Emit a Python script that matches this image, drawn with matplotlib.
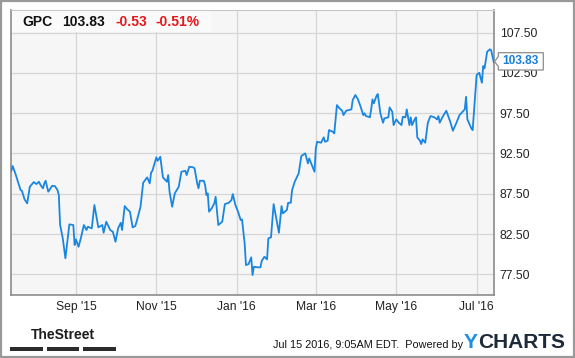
import matplotlib
matplotlib.use("Agg")
import matplotlib.pyplot as plt
import matplotlib.dates as mdates
from matplotlib import font_manager
from matplotlib.patches import Rectangle, Polygon
import pandas as pd

ticker = "GPC"
last_price = "103.83"
change = "-0.53"
change_pct = "-0.51%"
stamp = "Jul 15 2016, 9:05AM EDT.  Powered by"

dates = [
    "2015-07-14", "2015-07-15", "2015-07-17", "2015-07-19", "2015-07-21", "2015-07-22",
    "2015-07-24", "2015-07-26", "2015-07-28", "2015-07-31", "2015-08-02", "2015-08-04",
    "2015-08-05", "2015-08-07", "2015-08-08", "2015-08-09", "2015-08-11", "2015-08-14",
    "2015-08-16", "2015-08-18", "2015-08-19", "2015-08-20", "2015-08-22", "2015-08-24",
    "2015-08-27", "2015-08-30", "2015-08-31", "2015-09-01", "2015-09-03", "2015-09-05",
    "2015-09-07", "2015-09-09", "2015-09-10", "2015-09-13", "2015-09-15", "2015-09-18",
    "2015-09-21", "2015-09-22", "2015-09-24", "2015-09-27", "2015-09-29", "2015-10-01",
    "2015-10-03", "2015-10-05", "2015-10-06", "2015-10-08", "2015-10-10", "2015-10-12",
    "2015-10-14", "2015-10-16", "2015-10-17", "2015-10-19", "2015-10-20", "2015-10-22",
    "2015-10-25", "2015-10-27", "2015-10-28", "2015-10-29", "2015-11-01", "2015-11-02",
    "2015-11-04", "2015-11-05", "2015-11-06", "2015-11-09", "2015-11-10", "2015-11-11",
    "2015-11-13", "2015-11-15", "2015-11-18", "2015-11-20", "2015-11-23", "2015-11-24",
    "2015-11-26", "2015-11-29", "2015-11-30", "2015-12-02", "2015-12-03", "2015-12-04",
    "2015-12-07", "2015-12-08", "2015-12-09", "2015-12-10", "2015-12-11", "2015-12-13",
    "2015-12-15", "2015-12-16", "2015-12-18", "2015-12-20", "2015-12-21", "2015-12-23",
    "2015-12-26", "2015-12-28", "2015-12-29", "2015-12-31", "2016-01-02", "2016-01-04",
    "2016-01-05", "2016-01-07", "2016-01-08", "2016-01-10", "2016-01-12", "2016-01-13",
    "2016-01-14", "2016-01-17", "2016-01-19", "2016-01-20", "2016-01-22", "2016-01-24",
    "2016-01-25", "2016-01-27", "2016-01-29", "2016-01-31", "2016-02-02", "2016-02-04",
    "2016-02-05", "2016-02-08", "2016-02-09", "2016-02-11", "2016-02-12", "2016-02-14",
    "2016-02-17", "2016-02-19", "2016-02-22", "2016-02-24", "2016-02-25", "2016-02-29",
    "2016-03-01", "2016-03-02", "2016-03-05", "2016-03-07", "2016-03-08", "2016-03-10",
    "2016-03-11", "2016-03-14", "2016-03-15", "2016-03-17", "2016-03-19", "2016-03-21",
    "2016-03-22", "2016-03-24", "2016-03-26", "2016-03-28", "2016-03-29", "2016-03-31",
    "2016-04-02", "2016-04-04", "2016-04-06", "2016-04-07", "2016-04-08", "2016-04-10",
    "2016-04-11", "2016-04-12", "2016-04-13", "2016-04-14", "2016-04-16", "2016-04-17",
    "2016-04-19", "2016-04-21", "2016-04-22", "2016-04-25", "2016-04-26", "2016-04-28",
    "2016-04-29", "2016-05-01", "2016-05-03", "2016-05-05", "2016-05-06", "2016-05-08",
    "2016-05-09", "2016-05-11", "2016-05-12", "2016-05-13", "2016-05-15", "2016-05-16",
    "2016-05-17", "2016-05-19", "2016-05-20", "2016-05-21", "2016-05-23", "2016-05-25",
    "2016-05-27", "2016-05-30", "2016-06-01", "2016-06-02", "2016-06-03", "2016-06-05",
    "2016-06-08", "2016-06-11", "2016-06-13", "2016-06-16", "2016-06-18", "2016-06-21",
    "2016-06-22", "2016-06-23", "2016-06-24", "2016-06-27", "2016-06-28", "2016-07-01",
    "2016-07-03", "2016-07-05", "2016-07-06", "2016-07-07", "2016-07-09", "2016-07-11",
    "2016-07-12", "2016-07-14",
]
prices = [
    90.35, 90.94, 90.03, 88.99, 87.96, 87.87,
    86.81, 86.31, 88.37, 88.95, 88.70, 88.99,
    88.62, 88.17, 88.79, 89.11, 87.75, 88.49,
    88.46, 87.96, 87.34, 83.62, 81.97, 79.49,
    83.70, 83.62, 81.14, 81.84, 80.92, 82.17,
    83.62, 83.00, 83.41, 83.21, 86.10, 83.33,
    83.62, 82.66, 84.03, 83.00, 82.79, 81.54,
    83.21, 83.90, 83.00, 85.97, 85.56, 85.27,
    83.33, 83.49, 84.03, 85.27, 85.89, 88.86,
    89.53, 88.79, 90.11, 90.35, 92.02, 91.59,
    92.09, 90.85, 89.53, 88.99, 89.82, 87.75,
    85.89, 87.55, 88.37, 90.23, 90.35, 89.82,
    90.85, 90.78, 90.65, 88.79, 88.17, 89.11,
    89.11, 88.58, 87.34, 87.55, 85.27, 85.69,
    86.31, 87.13, 83.62, 83.90, 84.03, 86.22,
    86.38, 86.72, 87.46, 86.10, 85.27, 84.24,
    84.32, 81.35, 78.65, 78.78, 79.61, 77.41,
    78.44, 78.37, 78.37, 79.19, 79.68, 79.36,
    81.97, 82.09, 86.22, 84.45, 82.66, 85.97,
    85.07, 85.48, 86.38, 86.38, 87.96, 88.99,
    90.03, 92.18, 92.51, 91.27, 91.89, 90.23,
    93.13, 93.95, 93.83, 94.50, 93.95, 94.08,
    95.40, 95.19, 94.99, 98.50, 98.10, 97.80,
    97.26, 97.80, 97.88, 97.97, 99.13, 99.75,
    99.21, 98.29, 97.26, 97.48, 97.14, 97.05,
    96.98, 97.97, 99.21, 98.72, 99.62, 99.87,
    97.48, 96.31, 96.85, 96.98, 98.22, 97.67,
    96.02, 96.73, 96.31, 96.02, 97.05, 96.98,
    97.97, 96.02, 96.98, 96.02, 96.73, 96.98,
    94.50, 94.08, 93.67, 94.25, 93.83, 96.31,
    97.14, 96.98, 96.73, 97.14, 96.31, 96.98,
    97.80, 96.43, 95.32, 96.43, 97.26, 97.80,
    97.97, 99.53, 96.73, 95.61, 95.40, 102.23,
    102.51, 101.27, 103.34, 103.06, 105.12, 105.42,
    105.33, 103.83,
]
y_ticks = [77.5, 82.5, 87.5, 92.5, 97.5, 102.5, 107.5]

W, H = 575, 358


def fx(x):
    return x / W


def fy(y):
    return 1 - y / H


plt.rcParams['font.family'] = ['Liberation Sans', 'DejaVu Sans']
installed = {f.name for f in font_manager.fontManager.ttflist}
narrow = 'Liberation Sans Narrow' in installed

fig = plt.figure(figsize=(W / 100, H / 100), dpi=100)
fig.patch.set_facecolor('white')

# plot area in pixels: x 10.7..494.3, y 10..294.5
ax = fig.add_axes([fx(10.7), fy(294.5), fx(494.3) - fx(10.7), fy(10) - fy(294.5)])
ax.set_facecolor('#f6f6f6')

t = pd.to_datetime(dates)
ax.plot(t, prices, color='#1a86e0', lw=1.3, zorder=3)

ax.set_xlim(pd.Timestamp('2015-07-13 12:00'), pd.Timestamp('2016-07-14 10:00'))
ax.set_ylim(75.0, 110.3)

ax.xaxis.set_major_locator(mdates.MonthLocator(bymonth=[1, 3, 5, 7, 9, 11]))
ax.xaxis.set_major_formatter(mdates.DateFormatter("%b '%y"))
ax.set_yticks(y_ticks)
ax.set_yticklabels(["%.2f" % v for v in y_ticks])
ax.yaxis.tick_right()
ax.tick_params(axis='both', length=0, labelsize=8.7, colors='#222222')
ax.tick_params(axis='y', pad=4)
ax.tick_params(axis='x', pad=5)

ax.set_axisbelow(True)
ax.grid(True, color='#d6d6d6', lw=0.9)
for s in ['left', 'right', 'bottom']:
    ax.spines[s].set_color('#8c8c8c')
    ax.spines[s].set_linewidth(1.2)
ax.spines['top'].set_color('#c8c8c8')
ax.spines['top'].set_linewidth(0.8)

# quote header box
ax.add_patch(Rectangle((0.002, 0.9225), 0.412, 0.075, transform=ax.transAxes,
                       facecolor='#fafafa', edgecolor='none', zorder=1))
hy = fy(21.5)
fig.text(fx(22), hy, ticker, fontsize=10, fontweight='bold', color='#111111', va='center')
fig.text(fx(62), hy, last_price, fontsize=10, fontweight='bold', color='#111111', va='center')
fig.text(fx(115), hy, change, fontsize=10, fontweight='bold', color='#e4171c', va='center')
fig.text(fx(156), hy, change_pct, fontsize=10, fontweight='bold', color='#e4171c', va='center')

# last price tag
tag = Polygon([(fx(494.5), fy(61.5)), (fx(498.3), fy(56.5)), (fx(498.3), fy(52.7)),
               (fx(543.3), fy(52.7)), (fx(543.3), fy(70)), (fx(498.3), fy(70)),
               (fx(498.3), fy(66.5))], closed=True, transform=fig.transFigure,
              facecolor='white', edgecolor='#8c8c8c', lw=0.9, zorder=5)
fig.patches.append(tag)
fig.text(fx(520.8), fy(61.5), last_price, fontsize=8.6, fontweight='bold',
         color='#1a7fd6', ha='center', va='center', zorder=6)

# footer
if narrow:
    fig.text(fx(63), fy(335), "TheStreet", fontsize=11, fontweight='bold',
             family='Liberation Sans Narrow', color='#1e1e1e', ha='center', va='center')
else:
    fig.text(fx(63), fy(335), "TheStreet", fontsize=10, fontweight='bold',
             color='#1e1e1e', ha='center', va='center')
for x0, x1 in [(10, 42.7), (46.7, 79.3), (83.3, 116)]:
    fig.patches.append(Rectangle((fx(x0), fy(350.7)), fx(x1) - fx(x0), 3.4 / H,
                                 transform=fig.transFigure, facecolor='#2b2b2b',
                                 edgecolor='none'))
fig.text(fx(273), fy(345), stamp, fontsize=7.8, color='#111111', va='center')
fig.text(fx(464), fy(342), "Y", fontsize=15, fontweight='bold', color='#1a8fe3', va='center')
fig.text(fx(478), fy(342), "CHARTS", fontsize=15, fontweight='bold', color='#1c2a3a', va='center')

# outer frame
fig.patches.append(Rectangle((0.5 / W, 1.5 / H), 1 - 1.5 / W, 1 - 2.5 / H,
                             transform=fig.transFigure, facecolor='none',
                             edgecolor='#999999', lw=1.6))

fig.savefig('out.png', dpi=100)
